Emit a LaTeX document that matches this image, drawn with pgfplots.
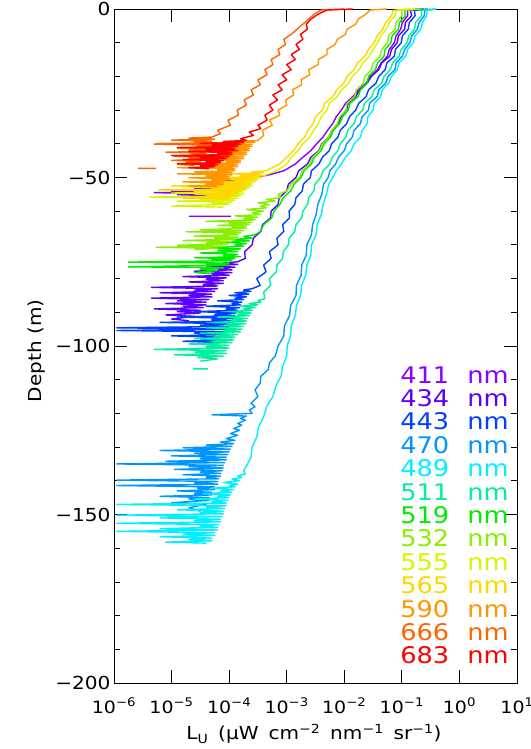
\documentclass[border=0pt]{standalone}
\usepackage{fontspec}
\setmainfont{DejaVu Sans}[FakeStretch=1.12]
\usepackage{pgfplots}
\pgfplotsset{compat=1.18}

\definecolor{c411}{RGB}{140,0,255}
\definecolor{c434}{RGB}{90,0,255}
\definecolor{c443}{RGB}{0,64,255}
\definecolor{c470}{RGB}{0,150,255}
\definecolor{c489}{RGB}{0,240,255}
\definecolor{c511}{RGB}{0,240,160}
\definecolor{c519}{RGB}{0,235,0}
\definecolor{c532}{RGB}{135,240,0}
\definecolor{c555}{RGB}{215,245,0}
\definecolor{c565}{RGB}{255,215,0}
\definecolor{c590}{RGB}{255,150,0}
\definecolor{c666}{RGB}{255,100,0}
\definecolor{c683}{RGB}{255,0,0}

\newcommand{\wsp}{\hspace{0.55em}}

\begin{document}
\begin{tikzpicture}
\begin{axis}[
  scale only axis, width=403bp, height=674bp,
  xmode=log, xmin=1e-6, xmax=10, ymin=-200, ymax=0,
  xtick={1e-6,1e-5,1e-4,1e-3,1e-2,1e-1,1,10},
  xticklabels={10\textsuperscript{−6},10\textsuperscript{−5},10\textsuperscript{−4},10\textsuperscript{−3},10\textsuperscript{−2},10\textsuperscript{−1},10\textsuperscript{0},10\textsuperscript{1}},
  xminorticks=false,
  ytick={-200,-150,-100,-50,0},
  yticklabels={−200,−150,−100,−50,0},
  minor y tick num=4,
  tick align=inside,
  major tick length=13bp, minor tick length=6.5bp,
  every tick/.style={black,line width=0.8bp},
  axis line style={line width=0.8bp},
  xticklabel style={font=\fontsize{17}{17}\selectfont, anchor=base, yshift=-30bp},
  yticklabel style={font=\fontsize{18}{18}\selectfont},
  xlabel={L\textsubscript{U}\wsp(μW\wsp cm\textsuperscript{−2}\wsp nm\textsuperscript{−1}\wsp sr\textsuperscript{−1})},
  ylabel={Depth (m)},
  every axis x label/.style={at={(axis description cs:0.496,-0.0756)},anchor=center,font=\fontsize{18}{18}\selectfont},
  every axis y label/.style={at={(axis description cs:-0.191,0.493)},rotate=90,anchor=center,font=\fontsize{18}{18}\selectfont},
  unbounded coords=jump,
  every axis plot/.append style={line width=1.4bp, line join=round},
]
% 411 nm
\addplot[c411] coordinates {(2.00e-1,0) (1.26e-1,-0.4) (1.26e-1,-2) (1.02e-1,-4) (9.55e-2,-6) (7.94e-2,-8) (7.41e-2,-10) (6.03e-2,-12) (5.62e-2,-14) (4.37e-2,-16) (3.80e-2,-18) (2.82e-2,-20) (2.40e-2,-22) (1.78e-2,-24) (1.41e-2,-26) (1.05e-2,-28) (8.91e-3,-30) (7.24e-3,-32) (6.31e-3,-34) (5.13e-3,-36) (4.27e-3,-38) (3.31e-3,-40) (2.63e-3,-42) (1.91e-3,-44) (1.41e-3,-46) (8.91e-4,-48) (5.01e-4,-49.2)
 (2.82e-4,-50.0) (1.58e-4,-50.3) (2.51e-4,-50.6) (7.94e-5,-50.9) (2.24e-4,-51.2) (1.26e-4,-51.5) (2.00e-4,-51.8) (3.98e-5,-52.1) (1.78e-4,-52.4) (1.00e-4,-52.7) (1.58e-4,-53.0) (2.51e-5,-53.3) (1.41e-4,-53.6) (1.00e-5,-53.9) (1.12e-4,-54.2) (5.01e-6,-54.5) (6.31e-5,-54.8) (1.26e-5,-55.1) (5.01e-5,-55.4) (2.00e-5,-55.7) (3.98e-5,-56.0) (nan,nan) (2.00e-5,-61.5) (1.07e-4,-61.5)};
% 434 nm
\addplot[c434] coordinates {(2.40e-1,0) (1.41e-1,-0.4) (1.48e-1,-2) (1.15e-1,-4) (1.12e-1,-6) (8.71e-2,-8) (8.32e-2,-10) (6.61e-2,-12) (6.17e-2,-14) (4.47e-2,-16) (3.98e-2,-18) (2.95e-2,-20) (2.51e-2,-22) (1.86e-2,-24) (1.58e-2,-26) (1.17e-2,-28) (1.10e-2,-30) (8.71e-3,-32) (7.94e-3,-34) (6.17e-3,-36) (5.37e-3,-38) (4.07e-3,-40) (3.63e-3,-42) (2.63e-3,-44) (2.29e-3,-46) (1.62e-3,-48) (1.45e-3,-50) (1.07e-3,-52) (1.00e-3,-54) (7.41e-4,-56) (7.08e-4,-58) (5.37e-4,-60) (5.25e-4,-62) (3.80e-4,-64) (3.55e-4,-66) (2.63e-4,-68) (2.51e-4,-70)
 (1.86e-4,-72.0) (1.91e-4,-74.0) (1.41e-4,-75.0) (7.94e-5,-75.4) (1.41e-4,-75.8) (3.98e-5,-76.2) (1.26e-4,-76.6) (6.31e-5,-77.0) (1.12e-4,-77.4) (2.51e-5,-77.8) (1.12e-4,-78.2) (5.01e-5,-78.6) (1.00e-4,-79.0) (1.58e-5,-79.4) (8.91e-5,-79.8) (3.98e-5,-80.2) (7.94e-5,-80.6) (2.00e-5,-81.0) (7.94e-5,-81.4) (3.55e-5,-81.8) (6.31e-5,-82.2) (4.47e-6,-82.6) (6.31e-5,-83.0) (2.51e-5,-83.4) (5.62e-5,-83.8) (6.31e-6,-84.2) (5.01e-5,-84.6) (2.00e-5,-85.0) (5.01e-5,-85.4) (4.47e-6,-85.8) (4.47e-5,-86.2) (1.26e-5,-86.6) (3.98e-5,-87.0) (7.94e-6,-87.4) (3.98e-5,-87.8) (1.58e-5,-88.2) (3.55e-5,-88.6) (5.01e-6,-89.0) (3.16e-5,-89.4) (1.26e-5,-89.8) (3.16e-5,-90.2) (7.94e-6,-90.8) (2.51e-5,-91.2) (1.00e-5,-92.0) (2.00e-5,-92.5)};
% 443 nm
\addplot[c443] coordinates {(2.82e-1,0) (1.66e-1,-0.4) (1.70e-1,-2) (1.35e-1,-4) (1.29e-1,-6) (1.02e-1,-8) (9.77e-2,-10) (7.76e-2,-12) (7.41e-2,-14) (5.50e-2,-16) (5.13e-2,-18) (3.98e-2,-20) (3.55e-2,-22) (2.63e-2,-24) (2.40e-2,-26) (1.78e-2,-28) (1.58e-2,-30) (1.23e-2,-32) (1.10e-2,-34) (8.51e-3,-36) (7.76e-3,-38) (6.03e-3,-40) (5.50e-3,-42) (4.17e-3,-44) (3.63e-3,-46) (2.69e-3,-48) (2.57e-3,-50) (1.95e-3,-52) (1.86e-3,-54) (1.45e-3,-56) (1.38e-3,-58) (1.10e-3,-60) (1.12e-3,-62) (8.51e-4,-64) (8.91e-4,-66) (6.76e-4,-68) (7.08e-4,-70) (5.01e-4,-72) (5.37e-4,-74) (3.98e-4,-76) (4.37e-4,-78) (3.02e-4,-80)
 (3.47e-4,-82.0) (2.51e-4,-83.0) (1.78e-4,-83.4) (2.40e-4,-83.8) (1.26e-4,-84.2) (2.19e-4,-84.6) (1.00e-4,-85.0) (2.00e-4,-85.4) (1.26e-4,-85.8) (1.78e-4,-86.2) (6.31e-5,-86.6) (1.66e-4,-87.0) (1.12e-4,-87.4) (1.58e-4,-87.8) (3.98e-5,-88.2) (1.51e-4,-88.6) (8.91e-5,-89.0) (1.41e-4,-89.4) (2.51e-5,-89.8) (1.32e-4,-90.2) (5.62e-5,-90.6) (1.26e-4,-91.0) (1.26e-5,-91.4) (1.20e-4,-91.8) (5.01e-5,-92.2) (1.12e-4,-92.6) (6.31e-6,-93.0) (1.12e-4,-93.4) (3.16e-5,-93.8) (1.00e-4,-94.2) (1.12e-6,-94.6) (1.00e-4,-95.0) (1.12e-6,-95.4) (8.91e-5,-95.8) (2.51e-5,-96.2) (8.91e-5,-96.6) (1.00e-5,-97.0) (7.94e-5,-97.4) (3.16e-5,-97.8) (7.94e-5,-98.2) (1.58e-5,-98.6) (7.08e-5,-99.0)};
% 470 nm
\addplot[c470] coordinates {(3.80e-1,0) (2.51e-1,-0.4) (2.45e-1,-2) (2.00e-1,-4) (1.86e-1,-6) (1.48e-1,-8) (1.38e-1,-10) (1.12e-1,-12) (1.02e-1,-14) (7.94e-2,-16) (7.59e-2,-18) (5.75e-2,-20) (5.25e-2,-22) (3.98e-2,-24) (3.72e-2,-26) (2.75e-2,-28) (2.63e-2,-30) (2.04e-2,-32) (1.91e-2,-34) (1.48e-2,-36) (1.38e-2,-38) (1.10e-2,-40) (1.00e-2,-42) (7.94e-3,-44) (7.08e-3,-46) (5.62e-3,-48) (5.25e-3,-50) (4.37e-3,-52) (4.07e-3,-55) (3.47e-3,-58) (3.24e-3,-61) (2.82e-3,-64) (2.69e-3,-67) (2.24e-3,-70) (2.19e-3,-73) (1.82e-3,-76) (1.78e-3,-79) (1.48e-3,-82) (1.45e-3,-85) (1.17e-3,-88) (1.12e-3,-91) (9.12e-4,-94) (8.91e-4,-97) (7.08e-4,-100) (6.31e-4,-103) (5.01e-4,-105) (4.79e-4,-107) (3.55e-4,-109) (3.47e-4,-111) (2.82e-4,-113) (3.16e-4,-115)
 (2.40e-4,-117.0) (2.82e-4,-118.0) (2.24e-4,-119.0) (2.51e-4,-120.0) (5.01e-5,-120.4) (2.00e-4,-120.8) (1.58e-4,-121.5) (1.91e-4,-122.0) (1.41e-4,-123.0) (1.66e-4,-123.5) (1.20e-4,-124.5) (1.51e-4,-125.0) (1.05e-4,-126.0) (1.41e-4,-126.5) (8.91e-5,-127.5) (1.26e-4,-128.0) (7.08e-5,-128.5) (1.20e-4,-129.0) (3.98e-5,-129.4) (1.12e-4,-129.8) (1.58e-5,-130.2) (1.05e-4,-130.6) (6.31e-6,-131.0) (1.00e-4,-131.4) (2.51e-5,-131.8) (9.55e-5,-132.2) (1.00e-5,-132.6) (8.91e-5,-133.0) (3.16e-5,-133.4) (8.91e-5,-133.8) (7.94e-6,-134.2) (8.32e-5,-134.6) (1.12e-6,-135.0) (7.94e-5,-135.4) (2.00e-5,-135.8) (7.94e-5,-136.2) (1.12e-5,-136.6) (7.59e-5,-137.0) (3.16e-5,-137.4) (7.08e-5,-137.8) (1.58e-5,-138.2) (7.08e-5,-138.6) (3.98e-5,-139.0) (6.61e-5,-139.4) (1.12e-6,-139.8) (6.31e-5,-140.2) (2.51e-5,-140.6) (6.31e-5,-141.0) (1.12e-6,-141.4) (5.62e-5,-141.8) (2.82e-5,-142.2) (5.62e-5,-142.6) (1.26e-5,-143.0) (5.01e-5,-143.4) (2.51e-5,-143.8) (5.01e-5,-144.2) (6.31e-6,-144.6) (4.47e-5,-145.0) (2.00e-5,-145.4) (4.47e-5,-145.8) (1.00e-5,-146.5) (3.98e-5,-147.0) (2.00e-5,-148.0) (3.16e-5,-149.0)};
% 489 nm
\addplot[c489] coordinates {(3.98e-1,0) (2.75e-1,-0.4) (2.69e-1,-2) (2.29e-1,-4) (2.14e-1,-6) (1.70e-1,-8) (1.58e-1,-10) (1.26e-1,-12) (1.17e-1,-14) (8.91e-2,-16) (8.32e-2,-18) (6.61e-2,-20) (5.89e-2,-22) (4.57e-2,-24) (4.27e-2,-26) (3.31e-2,-28) (3.16e-2,-30) (2.57e-2,-32) (2.51e-2,-34) (2.04e-2,-36) (1.91e-2,-38) (1.48e-2,-40) (1.32e-2,-42) (1.05e-2,-44) (8.91e-3,-46) (7.24e-3,-48) (6.31e-3,-50) (5.37e-3,-52) (4.90e-3,-55) (4.27e-3,-58) (3.98e-3,-61) (3.39e-3,-64) (3.24e-3,-67) (2.69e-3,-70) (2.63e-3,-73) (2.24e-3,-76) (2.14e-3,-79) (1.82e-3,-82) (1.74e-3,-85) (1.48e-3,-88) (1.41e-3,-91) (1.20e-3,-94) (1.17e-3,-97) (1.02e-3,-100) (1.00e-3,-103) (8.51e-4,-106) (7.94e-4,-109) (6.46e-4,-112) (5.75e-4,-115) (4.47e-4,-118) (3.98e-4,-121) (3.24e-4,-124) (3.02e-4,-127) (2.51e-4,-130) (2.40e-4,-133)
 (1.95e-4,-136.0) (1.78e-4,-137.0) (1.91e-4,-138.0) (1.41e-4,-138.5) (1.66e-4,-139.0) (1.12e-4,-139.5) (1.51e-4,-140.0) (7.94e-5,-140.5) (1.41e-4,-141.0) (1.00e-4,-141.4) (1.26e-4,-141.8) (5.01e-5,-142.2) (1.20e-4,-142.6) (7.08e-5,-143.0) (1.12e-4,-143.4) (3.55e-5,-143.8) (1.05e-4,-144.2) (6.31e-5,-144.6) (1.00e-4,-145.0) (2.51e-5,-145.4) (9.55e-5,-145.8) (5.01e-5,-146.2) (8.91e-5,-146.6) (1.12e-6,-147.0) (8.91e-5,-147.4) (3.98e-5,-147.8) (8.32e-5,-148.2) (1.26e-5,-148.6) (7.94e-5,-149.0) (3.16e-5,-149.4) (7.94e-5,-149.8) (1.12e-6,-150.2) (7.59e-5,-150.6) (6.31e-6,-151.0) (7.08e-5,-151.4) (2.51e-5,-151.8) (7.08e-5,-152.2) (1.12e-6,-152.6) (6.61e-5,-153.0) (3.16e-5,-153.4) (6.31e-5,-153.8) (6.31e-6,-154.2) (6.31e-5,-154.6) (1.12e-6,-155.0) (5.62e-5,-155.4) (1.58e-5,-155.8) (5.62e-5,-156.2) (6.31e-6,-156.6) (5.01e-5,-157.0) (2.00e-5,-157.4) (5.01e-5,-157.8) (7.94e-6,-158.2) (3.98e-5,-158.5)};
% 511 nm
\addplot[c511] coordinates {(3.16e-1,0) (2.19e-1,-0.4) (2.19e-1,-2) (1.74e-1,-4) (1.66e-1,-6) (1.32e-1,-8) (1.23e-1,-10) (9.77e-2,-12) (8.91e-2,-14) (6.92e-2,-16) (6.31e-2,-18) (4.90e-2,-20) (4.47e-2,-22) (3.31e-2,-24) (3.02e-2,-26) (2.24e-2,-28) (2.09e-2,-30) (1.62e-2,-32) (1.48e-2,-34) (1.15e-2,-36) (1.07e-2,-38) (8.51e-3,-40) (7.76e-3,-42) (6.17e-3,-44) (5.62e-3,-46) (4.27e-3,-48) (3.89e-3,-50) (3.09e-3,-52) (2.95e-3,-54) (2.40e-3,-56) (2.29e-3,-58) (1.91e-3,-60) (1.82e-3,-62) (1.45e-3,-64) (1.38e-3,-66) (1.10e-3,-68) (1.07e-3,-70) (8.71e-4,-72) (8.51e-4,-74) (6.76e-4,-76) (6.61e-4,-78) (5.01e-4,-80) (5.25e-4,-82) (3.98e-4,-84)
 (4.17e-4,-86.0) (3.16e-4,-86.5) (3.55e-4,-87.0) (2.24e-4,-87.4) (3.16e-4,-87.8) (1.58e-4,-88.2) (2.82e-4,-88.6) (1.78e-4,-89.0) (2.51e-4,-89.4) (1.00e-4,-89.8) (2.40e-4,-90.2) (1.41e-4,-90.6) (2.24e-4,-91.0) (6.31e-5,-91.4) (2.09e-4,-91.8) (1.12e-4,-92.2) (2.00e-4,-92.6) (5.01e-5,-93.0) (1.91e-4,-93.4) (8.91e-5,-93.8) (1.78e-4,-94.2) (3.98e-5,-94.6) (1.66e-4,-95.0) (7.94e-5,-95.4) (1.58e-4,-95.8) (3.16e-5,-96.2) (1.41e-4,-96.6) (6.31e-5,-97.0) (1.26e-4,-97.4) (2.51e-5,-97.8) (1.20e-4,-98.2) (5.01e-5,-98.6) (1.12e-4,-99.0) (2.00e-5,-99.4) (1.00e-4,-99.8) (3.98e-5,-100.2) (1.00e-4,-100.6) (5.01e-6,-101.0) (8.91e-5,-101.4) (2.51e-5,-101.8) (8.91e-5,-102.2) (1.12e-5,-102.6) (7.94e-5,-103.0) (2.82e-5,-103.4) (6.31e-5,-103.8) (3.16e-5,-104.5) (nan,nan) (2.34e-5,-106.8) (4.27e-5,-106.8)};
% 519 nm
\addplot[c519] coordinates {(2.24e-1,0) (1.12e-1,-0.4) (1.15e-1,-2) (9.12e-2,-4) (8.71e-2,-6) (6.76e-2,-8) (6.46e-2,-10) (5.13e-2,-12) (4.90e-2,-14) (3.80e-2,-16) (3.47e-2,-18) (2.63e-2,-20) (2.51e-2,-22) (1.91e-2,-24) (1.74e-2,-26) (1.26e-2,-28) (1.17e-2,-30) (9.33e-3,-32) (8.32e-3,-34) (6.46e-3,-36) (5.75e-3,-38) (4.47e-3,-40) (3.98e-3,-42) (3.02e-3,-44) (2.69e-3,-46) (2.00e-3,-48) (1.78e-3,-50) (1.35e-3,-52) (1.17e-3,-54) (8.71e-4,-56) (7.59e-4,-58) (6.03e-4,-60) (5.50e-4,-62)
 (3.98e-4,-64.0) (3.47e-4,-66.0) (2.82e-4,-67.0) (1.78e-4,-67.5) (2.51e-4,-68.0) (1.12e-4,-68.4) (2.24e-4,-68.8) (7.94e-5,-69.2) (2.00e-4,-69.6) (1.26e-4,-70.0) (1.78e-4,-70.4) (3.98e-5,-70.8) (1.58e-4,-71.2) (6.31e-5,-71.6) (1.41e-4,-72.0) (3.16e-5,-72.4) (1.41e-4,-72.8) (7.94e-5,-73.2) (1.58e-4,-73.5) (2.51e-5,-73.8) (1.26e-4,-74.1) (5.01e-5,-74.4) (1.12e-4,-74.7) (1.78e-6,-75.1) (1.00e-4,-75.4) (3.98e-5,-75.7) (1.00e-4,-76.0) (1.78e-6,-76.5) (7.94e-5,-76.8) (3.16e-5,-77.2) (6.31e-5,-77.6) (2.51e-5,-78.2) (5.01e-5,-78.6)};
% 532 nm
\addplot[c532] coordinates {(2.09e-1,0) (1.00e-1,-0.4) (1.00e-1,-2) (7.94e-2,-4) (7.59e-2,-6) (5.89e-2,-8) (5.62e-2,-10) (4.47e-2,-12) (4.17e-2,-14) (3.16e-2,-16) (2.95e-2,-18) (2.29e-2,-20) (2.14e-2,-22) (1.62e-2,-24) (1.51e-2,-26) (1.12e-2,-28) (1.07e-2,-30) (8.32e-3,-32) (7.59e-3,-34) (6.03e-3,-36) (5.37e-3,-38) (4.17e-3,-40) (3.72e-3,-42) (2.82e-3,-44) (2.51e-3,-46) (1.86e-3,-48) (1.66e-3,-50) (1.20e-3,-52)
 (1.00e-3,-54.0) (7.08e-4,-55.0) (7.94e-4,-56.0) (4.47e-4,-56.5) (6.31e-4,-57.0) (3.16e-4,-57.5) (5.01e-4,-58.0) (3.55e-4,-58.5) (4.47e-4,-59.0) (2.00e-4,-59.5) (3.98e-4,-60.0) (2.51e-4,-60.5) (3.55e-4,-61.0) (1.26e-4,-61.4) (3.16e-4,-61.8) (1.78e-4,-62.2) (2.82e-4,-62.6) (3.98e-5,-63.0) (2.51e-4,-63.3) (1.00e-4,-63.6) (2.24e-4,-63.9) (6.31e-5,-64.2) (2.00e-4,-64.5) (1.12e-4,-64.8) (2.00e-4,-65.1) (3.16e-5,-65.5) (1.78e-4,-65.8) (1.78e-5,-66.1) (1.58e-4,-66.4) (7.94e-5,-66.7) (1.41e-4,-67.0) (2.51e-5,-67.4) (1.41e-4,-67.7) (5.62e-5,-68.0) (1.26e-4,-68.3) (1.58e-5,-68.7) (1.12e-4,-69.0) (3.98e-5,-69.4) (1.00e-4,-69.7) (1.26e-5,-70.1) (8.91e-5,-70.4) (5.37e-6,-70.7) (6.31e-5,-71.0) (2.51e-5,-71.4)};
% 555 nm
\addplot[c555] coordinates {(1.58e-1,0) (7.94e-2,-0.4) (7.59e-2,-2) (6.03e-2,-4) (5.37e-2,-6) (4.27e-2,-8) (3.80e-2,-10) (3.16e-2,-12) (2.75e-2,-14) (2.09e-2,-16) (1.82e-2,-18) (1.38e-2,-20) (1.20e-2,-22) (8.91e-3,-24) (7.59e-3,-26) (5.50e-3,-28) (5.01e-3,-30) (3.98e-3,-32) (3.55e-3,-34) (2.95e-3,-36) (2.51e-3,-38) (1.91e-3,-40) (1.58e-3,-42) (1.20e-3,-44) (1.00e-3,-46) (6.61e-4,-48)
 (3.98e-4,-49.5) (2.00e-4,-49.8) (3.55e-4,-50.1) (7.94e-5,-50.4) (3.16e-4,-50.7) (1.58e-4,-51.0) (2.82e-4,-51.3) (3.16e-5,-51.6) (2.51e-4,-51.9) (1.12e-4,-52.2) (2.51e-4,-52.5) (1.58e-5,-52.8) (2.24e-4,-53.1) (6.31e-5,-53.4) (2.00e-4,-53.7) (2.51e-5,-54.0) (1.78e-4,-54.3) (1.00e-5,-54.6) (1.78e-4,-54.9) (5.01e-5,-55.2) (1.58e-4,-55.5) (4.17e-6,-55.8) (1.41e-4,-56.1) (3.16e-5,-56.4) (1.26e-4,-56.7) (1.26e-5,-57.0) (1.12e-4,-57.3) (5.01e-5,-57.6) (1.00e-4,-57.9) (1.00e-5,-58.5) (7.94e-5,-58.8)};
% 565 nm
\addplot[c565] coordinates {(1.41e-1,0) (7.08e-2,-0.4) (6.61e-2,-2) (5.25e-2,-4) (4.68e-2,-6) (3.72e-2,-8) (3.31e-2,-10) (2.63e-2,-12) (2.29e-2,-14) (1.70e-2,-16) (1.48e-2,-18) (1.12e-2,-20) (9.77e-3,-22) (7.41e-3,-24) (6.31e-3,-26) (4.57e-3,-28) (4.17e-3,-30) (3.16e-3,-32) (2.88e-3,-34) (2.34e-3,-36) (2.04e-3,-38) (1.58e-3,-40) (1.32e-3,-42) (1.00e-3,-44) (7.59e-4,-46) (5.01e-4,-47.5)
 (4.47e-4,-48.0) (2.51e-4,-48.3) (3.98e-4,-48.6) (1.00e-4,-48.9) (3.55e-4,-49.2) (1.58e-4,-49.5) (3.16e-4,-49.8) (3.98e-5,-50.1) (2.82e-4,-50.4) (1.26e-4,-50.7) (2.51e-4,-51.0) (2.00e-5,-51.3) (2.24e-4,-51.6) (7.94e-5,-51.9) (2.24e-4,-52.2) (1.00e-5,-52.5) (2.00e-4,-52.8) (5.01e-5,-53.1) (1.78e-4,-53.4) (5.89e-6,-53.7) (1.58e-4,-54.0) (6.31e-5,-54.3) (1.41e-4,-54.6) (2.51e-5,-54.9) (1.26e-4,-55.2) (3.98e-5,-55.5) (1.12e-4,-55.8) (1.58e-5,-56.1) (1.00e-4,-56.4)};
% 590 nm
\addplot[c590] coordinates {(5.50e-2,0) (2.82e-2,-0.3) (2.40e-2,-1.5) (1.74e-2,-3) (1.58e-2,-4.5) (1.12e-2,-6) (1.05e-2,-7.5) (7.59e-3,-9) (6.92e-3,-10.5) (5.01e-3,-12) (5.01e-3,-13.5) (3.55e-3,-15) (3.55e-3,-16.5) (2.40e-3,-18) (2.51e-3,-19.5) (1.78e-3,-21) (1.82e-3,-22.5) (1.26e-3,-24) (1.32e-3,-25.5) (9.55e-4,-27) (1.00e-3,-28.5) (7.08e-4,-30) (7.59e-4,-31.5) (5.01e-4,-33) (5.62e-4,-34.5) (3.80e-4,-36) (3.98e-4,-37.5)
 (3.16e-4,-39.0) (1.26e-4,-39.3) (2.82e-4,-39.6) (5.50e-6,-39.9) (2.51e-4,-40.2) (1.00e-4,-40.5) (2.51e-4,-40.8) (3.98e-5,-41.1) (2.24e-4,-41.4) (1.12e-4,-41.7) (2.24e-4,-42.0) (2.51e-5,-42.3) (2.00e-4,-42.6) (7.94e-5,-42.9) (2.00e-4,-43.2) (1.58e-5,-43.5) (1.78e-4,-43.8) (6.31e-5,-44.1) (1.78e-4,-44.4) (3.16e-5,-44.7) (1.58e-4,-45.0) (8.91e-5,-45.3) (1.58e-4,-45.6) (2.00e-5,-45.9) (1.41e-4,-46.2) (5.01e-5,-46.5) (1.41e-4,-46.8) (1.26e-5,-47.1) (1.26e-4,-47.4) (6.31e-5,-47.7) (1.26e-4,-48.0) (2.51e-5,-48.3) (1.12e-4,-48.6) (1.26e-5,-48.9) (1.12e-4,-49.2) (3.98e-5,-49.5) (1.00e-4,-49.8) (2.00e-5,-50.1) (1.00e-4,-50.4) (5.01e-5,-50.7) (8.91e-5,-51.0) (1.58e-5,-51.3) (7.94e-5,-51.6) (3.98e-5,-51.9) (7.08e-5,-52.2) (2.00e-5,-52.5) (6.31e-5,-52.8)};
% 666 nm
\addplot[c666] coordinates {(1.00e-2,0) (3.98e-3,-0.3) (3.02e-3,-1.5) (2.40e-3,-3) (1.91e-3,-4.5) (1.51e-3,-6) (1.20e-3,-7.5) (8.91e-4,-9) (9.55e-4,-10.5) (7.08e-4,-12) (7.59e-4,-13.5) (5.37e-4,-15) (5.75e-4,-16.5) (4.17e-4,-18) (4.57e-4,-19.5) (3.16e-4,-21) (3.47e-4,-22.5) (2.40e-4,-24) (2.63e-4,-25.5) (1.82e-4,-27) (2.00e-4,-28.5) (1.38e-4,-30) (1.45e-4,-31.5) (9.55e-5,-33) (1.05e-4,-34.5) (6.31e-5,-36) (7.08e-5,-37)
 (5.01e-5,-38.0) (2.00e-5,-38.3) (5.62e-5,-38.6) (1.00e-5,-38.9) (5.01e-5,-39.2) (2.51e-5,-39.5) (6.31e-5,-39.8) (5.01e-6,-40.1) (5.01e-5,-40.4) (2.82e-5,-40.7) (5.62e-5,-41.0) (1.26e-5,-41.3) (4.47e-5,-41.6) (2.00e-5,-41.9) (5.01e-5,-42.2) (7.94e-6,-42.5) (3.98e-5,-42.8) (2.24e-5,-43.1) (4.47e-5,-43.4) (1.12e-5,-43.7) (3.55e-5,-44.0) (2.00e-5,-44.3) (3.98e-5,-44.6) (1.00e-5,-44.9) (3.16e-5,-45.2) (1.78e-5,-45.5) (3.16e-5,-45.8) (1.26e-5,-46.1) (2.51e-5,-46.4) (nan,nan) (2.6e-6,-47.3) (5.4e-6,-47.3)};
% 683 nm
\addplot[c683] coordinates {(1.41e-2,0) (5.01e-3,-0.3) (3.55e-3,-1.5) (2.63e-3,-3) (2.19e-3,-4.5) (2.29e-3,-6) (1.74e-3,-7.5) (1.91e-3,-9) (1.45e-3,-10.5) (1.66e-3,-12) (1.20e-3,-13.5) (1.41e-3,-15) (1.00e-3,-16.5) (1.20e-3,-18) (8.32e-4,-19.5) (1.00e-3,-21) (7.08e-4,-22.5) (8.32e-4,-24) (5.75e-4,-25.5) (6.92e-4,-27) (5.01e-4,-28.5) (5.75e-4,-30) (4.17e-4,-31.5) (4.57e-4,-33) (3.16e-4,-34.5) (3.55e-4,-35.5) (2.24e-4,-36.5) (2.63e-4,-37.5) (1.58e-4,-38.5)
 (2.00e-4,-39.0) (7.94e-5,-39.3) (1.78e-4,-39.6) (3.16e-5,-39.9) (1.58e-4,-40.2) (5.01e-5,-40.5) (1.41e-4,-40.8) (1.26e-5,-41.1) (1.26e-4,-41.4) (3.98e-5,-41.7) (1.41e-4,-42.0) (2.00e-5,-42.3) (1.12e-4,-42.6) (6.31e-5,-42.9) (1.12e-4,-43.2) (1.00e-5,-43.5) (1.00e-4,-43.8) (3.16e-5,-44.1) (8.91e-5,-44.4) (1.58e-5,-44.7) (7.94e-5,-45.0) (3.98e-5,-45.3) (7.08e-5,-45.6) (1.26e-5,-45.9) (6.31e-5,-46.2) (3.16e-5,-46.5) (5.62e-5,-46.8) (2.00e-5,-47.1) (4.47e-5,-47.4)};

% wavelength labels
\begin{scope}[every node/.style={anchor=base west,inner sep=0pt,font=\fontsize{23}{23}\selectfont}]
\node[text=c411] at (axis description cs:0.71,0.4451) {\makebox[67bp][l]{411}nm};
\node[text=c434] at (axis description cs:0.71,0.4104) {\makebox[67bp][l]{434}nm};
\node[text=c443] at (axis description cs:0.71,0.3757) {\makebox[67bp][l]{443}nm};
\node[text=c470] at (axis description cs:0.71,0.3409) {\makebox[67bp][l]{470}nm};
\node[text=c489] at (axis description cs:0.71,0.3062) {\makebox[67bp][l]{489}nm};
\node[text=c511] at (axis description cs:0.71,0.2715) {\makebox[67bp][l]{511}nm};
\node[text=c519] at (axis description cs:0.71,0.2368) {\makebox[67bp][l]{519}nm};
\node[text=c532] at (axis description cs:0.71,0.2021) {\makebox[67bp][l]{532}nm};
\node[text=c555] at (axis description cs:0.71,0.1674) {\makebox[67bp][l]{555}nm};
\node[text=c565] at (axis description cs:0.71,0.1326) {\makebox[67bp][l]{565}nm};
\node[text=c590] at (axis description cs:0.71,0.0979) {\makebox[67bp][l]{590}nm};
\node[text=c666] at (axis description cs:0.71,0.0632) {\makebox[67bp][l]{666}nm};
\node[text=c683] at (axis description cs:0.71,0.0285) {\makebox[67bp][l]{683}nm};
\end{scope}
\end{axis}
\pgfresetboundingbox
\useasboundingbox ([shift={(-114bp,-66bp)}]current axis.south west) rectangle ([shift={(14bp,9bp)}]current axis.north east);
\end{tikzpicture}
\end{document}
